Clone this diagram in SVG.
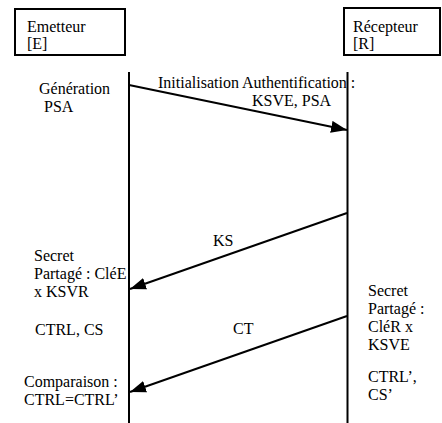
<svg xmlns="http://www.w3.org/2000/svg" width="442" height="423" viewBox="0 0 442 423">
  <style>
    .box { fill: #fff; stroke: #000; stroke-width: 2; }
    .life { stroke: #000; stroke-width: 2; fill: none; }
    .msg { stroke: #000; stroke-width: 2; fill: none; marker-end: url(#head); }
    text { font-family: "Liberation Serif", "Times New Roman", serif; font-size: 16px; fill: #000; }
  </style>
  <defs>
    <marker id="head" markerUnits="userSpaceOnUse" markerWidth="17" markerHeight="12" refX="16" refY="6" orient="auto">
      <path d="M0,0 L16,6 L0,12 Z" fill="#000"/>
    </marker>
  </defs>
  <rect width="442" height="423" fill="#fff"/>

  <!-- participants with their lifelines -->
  <g id="emetteur">
    <rect class="box" x="15" y="9" width="110" height="46"/>
    <text x="27" y="32">Emetteur</text>
    <text x="27" y="49">[E]</text>
    <line class="life" x1="129" y1="72" x2="129" y2="423"/>
  </g>
  <g id="recepteur">
    <rect class="box" x="344" y="8" width="96" height="47"/>
    <text x="353" y="32">Récepteur</text>
    <text x="353" y="49">[R]</text>
    <line class="life" x1="347.5" y1="72" x2="347.5" y2="423"/>
  </g>

  <!-- local steps -->
  <g id="generation">
    <text x="39" y="94">Génération</text>
    <text x="44" y="112">PSA</text>
  </g>
  <g id="secret-e">
    <text x="34" y="261">Secret</text>
    <text x="34" y="279">Partagé : CléE</text>
    <text x="34" y="297">x KSVR</text>
  </g>
  <g id="ctrl-e">
    <text x="35" y="335">CTRL, CS</text>
  </g>
  <g id="comparaison">
    <text x="24" y="387">Comparaison :</text>
    <text x="24" y="405">CTRL=CTRL’</text>
  </g>
  <g id="secret-r">
    <text x="368" y="296">Secret</text>
    <text x="368" y="314">Partagé :</text>
    <text x="368" y="332">CléR x</text>
    <text x="368" y="350">KSVE</text>
  </g>
  <g id="ctrl-r">
    <text x="368" y="382">CTRL’,</text>
    <text x="368" y="400">CS’</text>
  </g>

  <!-- messages -->
  <g id="connectors">
    <line class="msg" x1="129" y1="85" x2="347" y2="130"/>
    <text x="158" y="88">Initialisation Authentification :</text>
    <text x="252" y="106">KSVE, PSA</text>
    <line class="msg" x1="347" y1="213" x2="130" y2="289"/>
    <text x="213" y="246">KS</text>
    <line class="msg" x1="347" y1="316" x2="130" y2="392"/>
    <text x="233" y="334">CT</text>
  </g>
</svg>
